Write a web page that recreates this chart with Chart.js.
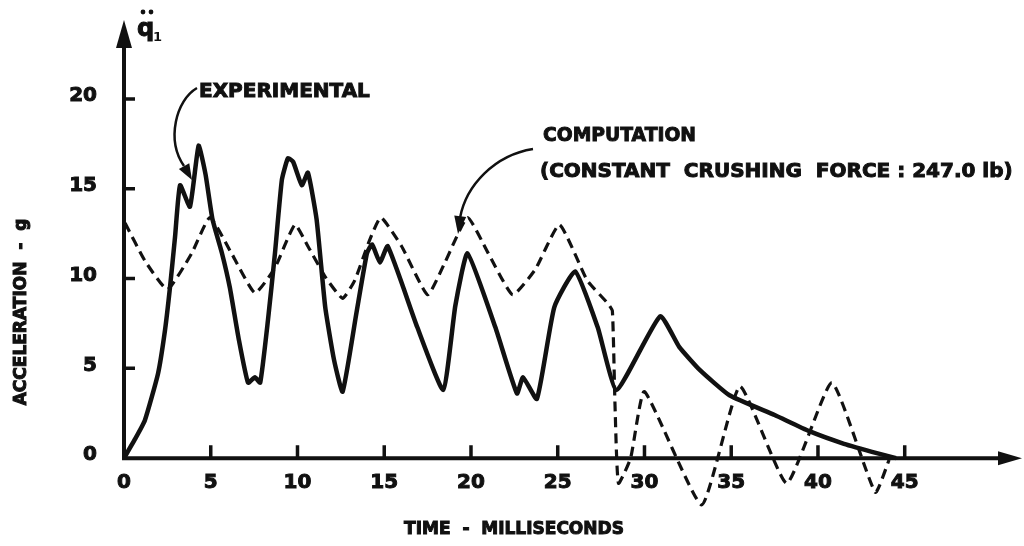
<!DOCTYPE html>
<html>
<head>
<meta charset="utf-8">
<script src="https://cdn.jsdelivr.net/npm/chart.js@4/dist/chart.umd.min.js"></script>
<style>
  html, body { margin: 0; padding: 0; background: #ffffff; }
  #wrap { width: 1024px; height: 546px; }
</style>
</head>
<body>
<div id="wrap"><canvas id="accelChart" width="1024" height="546"></canvas></div>
<script>
// experimental record (solid)
const expTime = [0, 0.6, 1.2, 1.96, 2.36, 2.65, 2.94, 3.23, 3.8, 4.3, 4.7, 5.1, 5.65, 6.1, 6.6, 7.15, 7.55, 7.85,
  8.3, 8.7, 9.1, 9.45, 9.75, 10.25, 10.6, 11.1, 11.6, 12.1, 12.6, 13.4, 14.0, 14.3, 14.75, 15.2, 16.9, 18.4, 19.1,
  19.8, 21.4, 22.65, 23.0, 23.8, 24.8, 26.0, 27.3, 28.4, 30.9, 32.0, 33.2, 34.9, 37.5, 39.5, 41.5, 43.5, 44.5];
const expAccel = [0, 1.0, 2.1, 4.7, 7.1, 9.5, 12.3, 15.2, 14.0, 17.4, 15.8, 13.3, 11.4, 9.5, 6.7, 4.2, 4.5, 4.2,
  7.7, 11.4, 15.5, 16.7, 16.5, 15.2, 15.9, 13.3, 8.4, 5.5, 3.7, 8.1, 11.4, 11.9, 10.9, 11.8, 7.3, 3.8, 8.5,
  11.4, 7.3, 3.6, 4.5, 3.3, 8.4, 10.4, 7.3, 3.8, 7.9, 6.2, 4.9, 3.5, 2.4, 1.5, 0.8, 0.25, 0];

// computation, constant crushing force (dashed)
const compTime = [0.06, 1.2, 2.5, 3.9, 4.95, 6.2, 7.55, 8.7, 9.85, 10.6, 11.6, 12.6, 13.3, 14.1, 14.8, 16.0, 17.5,
  18.5, 19.8, 21.0, 22.4, 23.7, 25.1, 26.7, 27.9, 28.15, 28.3, 28.5, 29.2, 30.0, 33.3, 35.5, 38.2, 40.8, 43.3, 44.1];
const compAccel = [13.1, 11.0, 9.4, 11.4, 13.4, 11.4, 9.2, 10.6, 13.0, 11.8, 10.1, 8.9, 9.9, 12.0, 13.4, 11.8, 9.1,
  10.9, 13.4, 11.4, 9.1, 10.5, 13.0, 9.9, 8.6, 8.2, 3.0, -1.4, 0, 3.7, -2.6, 4.0, -1.4, 4.2, -1.9, -0.1];

const xTicks = [0, 5, 10, 15, 20, 25, 30, 35, 40, 45];
const yTicks = [0, 5, 10, 15, 20];

const ink = "#111111";
const FONT = "\"DejaVu Sans\", sans-serif";

function pts(xs, ys) {
  return xs.map((x, i) => ({ x: x, y: ys[i] }));
}

function bold(ctx, size) {
  ctx.font = "bold " + size + "px " + FONT;
}

// heavy text: fill plus a thin stroke so it reads like the inked original
function heavy(ctx, t, x, y, maxW) {
  ctx.lineWidth = 1;
  if (maxW) {
    ctx.fillText(t, x, y, maxW);
    ctx.strokeText(t, x, y, maxW);
  } else {
    ctx.fillText(t, x, y);
    ctx.strokeText(t, x, y);
  }
}

function arrowHead(ctx, tipX, tipY, angle, len, half) {
  ctx.save();
  ctx.translate(tipX, tipY);
  ctx.rotate(angle);
  ctx.beginPath();
  ctx.moveTo(0, 0);
  ctx.lineTo(-len, -half);
  ctx.lineTo(-len, half);
  ctx.closePath();
  ctx.fill();
  ctx.restore();
}

const handAxes = {
  id: "handAxes",
  afterDatasetsDraw(chart) {
    const ctx = chart.ctx;
    const xs = chart.scales.x, ys = chart.scales.y;
    const x0 = xs.getPixelForValue(0), y0 = ys.getPixelForValue(0);
    ctx.save();
    ctx.strokeStyle = ink;
    ctx.fillStyle = ink;
    ctx.lineWidth = 4;

    // axes with arrows
    ctx.beginPath();
    ctx.moveTo(x0, y0 + 2);
    ctx.lineTo(x0, ys.top + 20);
    ctx.moveTo(x0 - 2, y0);
    ctx.lineTo(xs.right - 18, y0);
    ctx.stroke();
    arrowHead(ctx, x0, ys.top, Math.PI / 2 * 3, 28, 8);
    arrowHead(ctx, xs.right, y0, 0, 24, 7);

    // ticks, drawn inward
    ctx.lineWidth = 3.5;
    ctx.beginPath();
    xTicks.forEach(v => {
      if (v === 0) return;
      const px = xs.getPixelForValue(v);
      ctx.moveTo(px, y0);
      ctx.lineTo(px, y0 - 13);
    });
    yTicks.forEach(v => {
      if (v === 0) return;
      const py = ys.getPixelForValue(v);
      ctx.moveTo(x0, py);
      ctx.lineTo(x0 + 11, py);
    });
    ctx.stroke();

    // tick labels
    bold(ctx, 20);
    ctx.textBaseline = "middle";
    ctx.textAlign = "center";
    xTicks.forEach(v => {
      heavy(ctx, String(v), xs.getPixelForValue(v), y0 + 25);
    });
    ctx.textAlign = "right";
    yTicks.forEach(v => {
      heavy(ctx, String(v), x0 - 27, ys.getPixelForValue(v) - 3);
    });

    // axis titles
    bold(ctx, 17);
    ctx.textAlign = "center";
    heavy(ctx, "TIME  -  MILLISECONDS", 514, 530, 274);
    ctx.save();
    ctx.translate(22, 312);
    ctx.rotate(-Math.PI / 2);
    heavy(ctx, "ACCELERATION  -  g", 0, 0, 250);
    ctx.restore();

    // q double-dot subscript 1
    bold(ctx, 24);
    ctx.textAlign = "left";
    heavy(ctx, "q", 137, 30);
    ctx.beginPath();
    ctx.arc(143, 12, 2.4, 0, Math.PI * 2);
    ctx.arc(151, 12, 2.4, 0, Math.PI * 2);
    ctx.fill();
    bold(ctx, 13);
    ctx.fillText("1", 153, 38);

    // annotations
    bold(ctx, 20);
    ctx.textAlign = "left";
    heavy(ctx, "EXPERIMENTAL", 199, 92, 171);
    heavy(ctx, "COMPUTATION", 543, 136, 153);
    heavy(ctx, "(CONSTANT  CRUSHING  FORCE : 247.0 lb)", 540, 172, 474);

    ctx.lineWidth = 2.5;
    ctx.beginPath();
    ctx.moveTo(197, 88);
    ctx.bezierCurveTo(176, 100, 166, 140, 184, 166);
    ctx.stroke();
    arrowHead(ctx, 192, 180, Math.atan2(14, 8), 16, 6);

    ctx.beginPath();
    ctx.moveTo(533, 149);
    ctx.bezierCurveTo(495, 155, 466, 185, 460, 218);
    ctx.stroke();
    arrowHead(ctx, 458, 234, Math.atan2(16, -2), 18, 6);

    ctx.restore();
  }
};

new Chart(document.getElementById("accelChart"), {
  type: "line",
  data: {
    datasets: [{
      label: "Experimental",
      data: pts(expTime, expAccel),
      borderColor: ink,
      borderWidth: 4.5,
      fill: false,
      tension: 0.15,
      pointRadius: 0,
      clip: false
    }, {
      label: "Computation (constant crushing force: 247.0 lb)",
      data: pts(compTime, compAccel),
      borderColor: ink,
      borderWidth: 3.2,
      borderDash: [10, 6],
      fill: false,
      tension: 0.15,
      pointRadius: 0,
      clip: false
    }]
  },
  options: {
    animation: false,
    responsive: false,
    layout: { padding: { left: 124, right: 2, top: 20, bottom: 34 } },
    plugins: { legend: { display: false }, tooltip: { enabled: false } },
    scales: {
      x: { type: "linear", min: 0, max: 51.76, display: false },
      y: { type: "linear", min: -3.0, max: 24.4, display: false }
    }
  },
  plugins: [handAxes]
});
</script>
</body>
</html>
